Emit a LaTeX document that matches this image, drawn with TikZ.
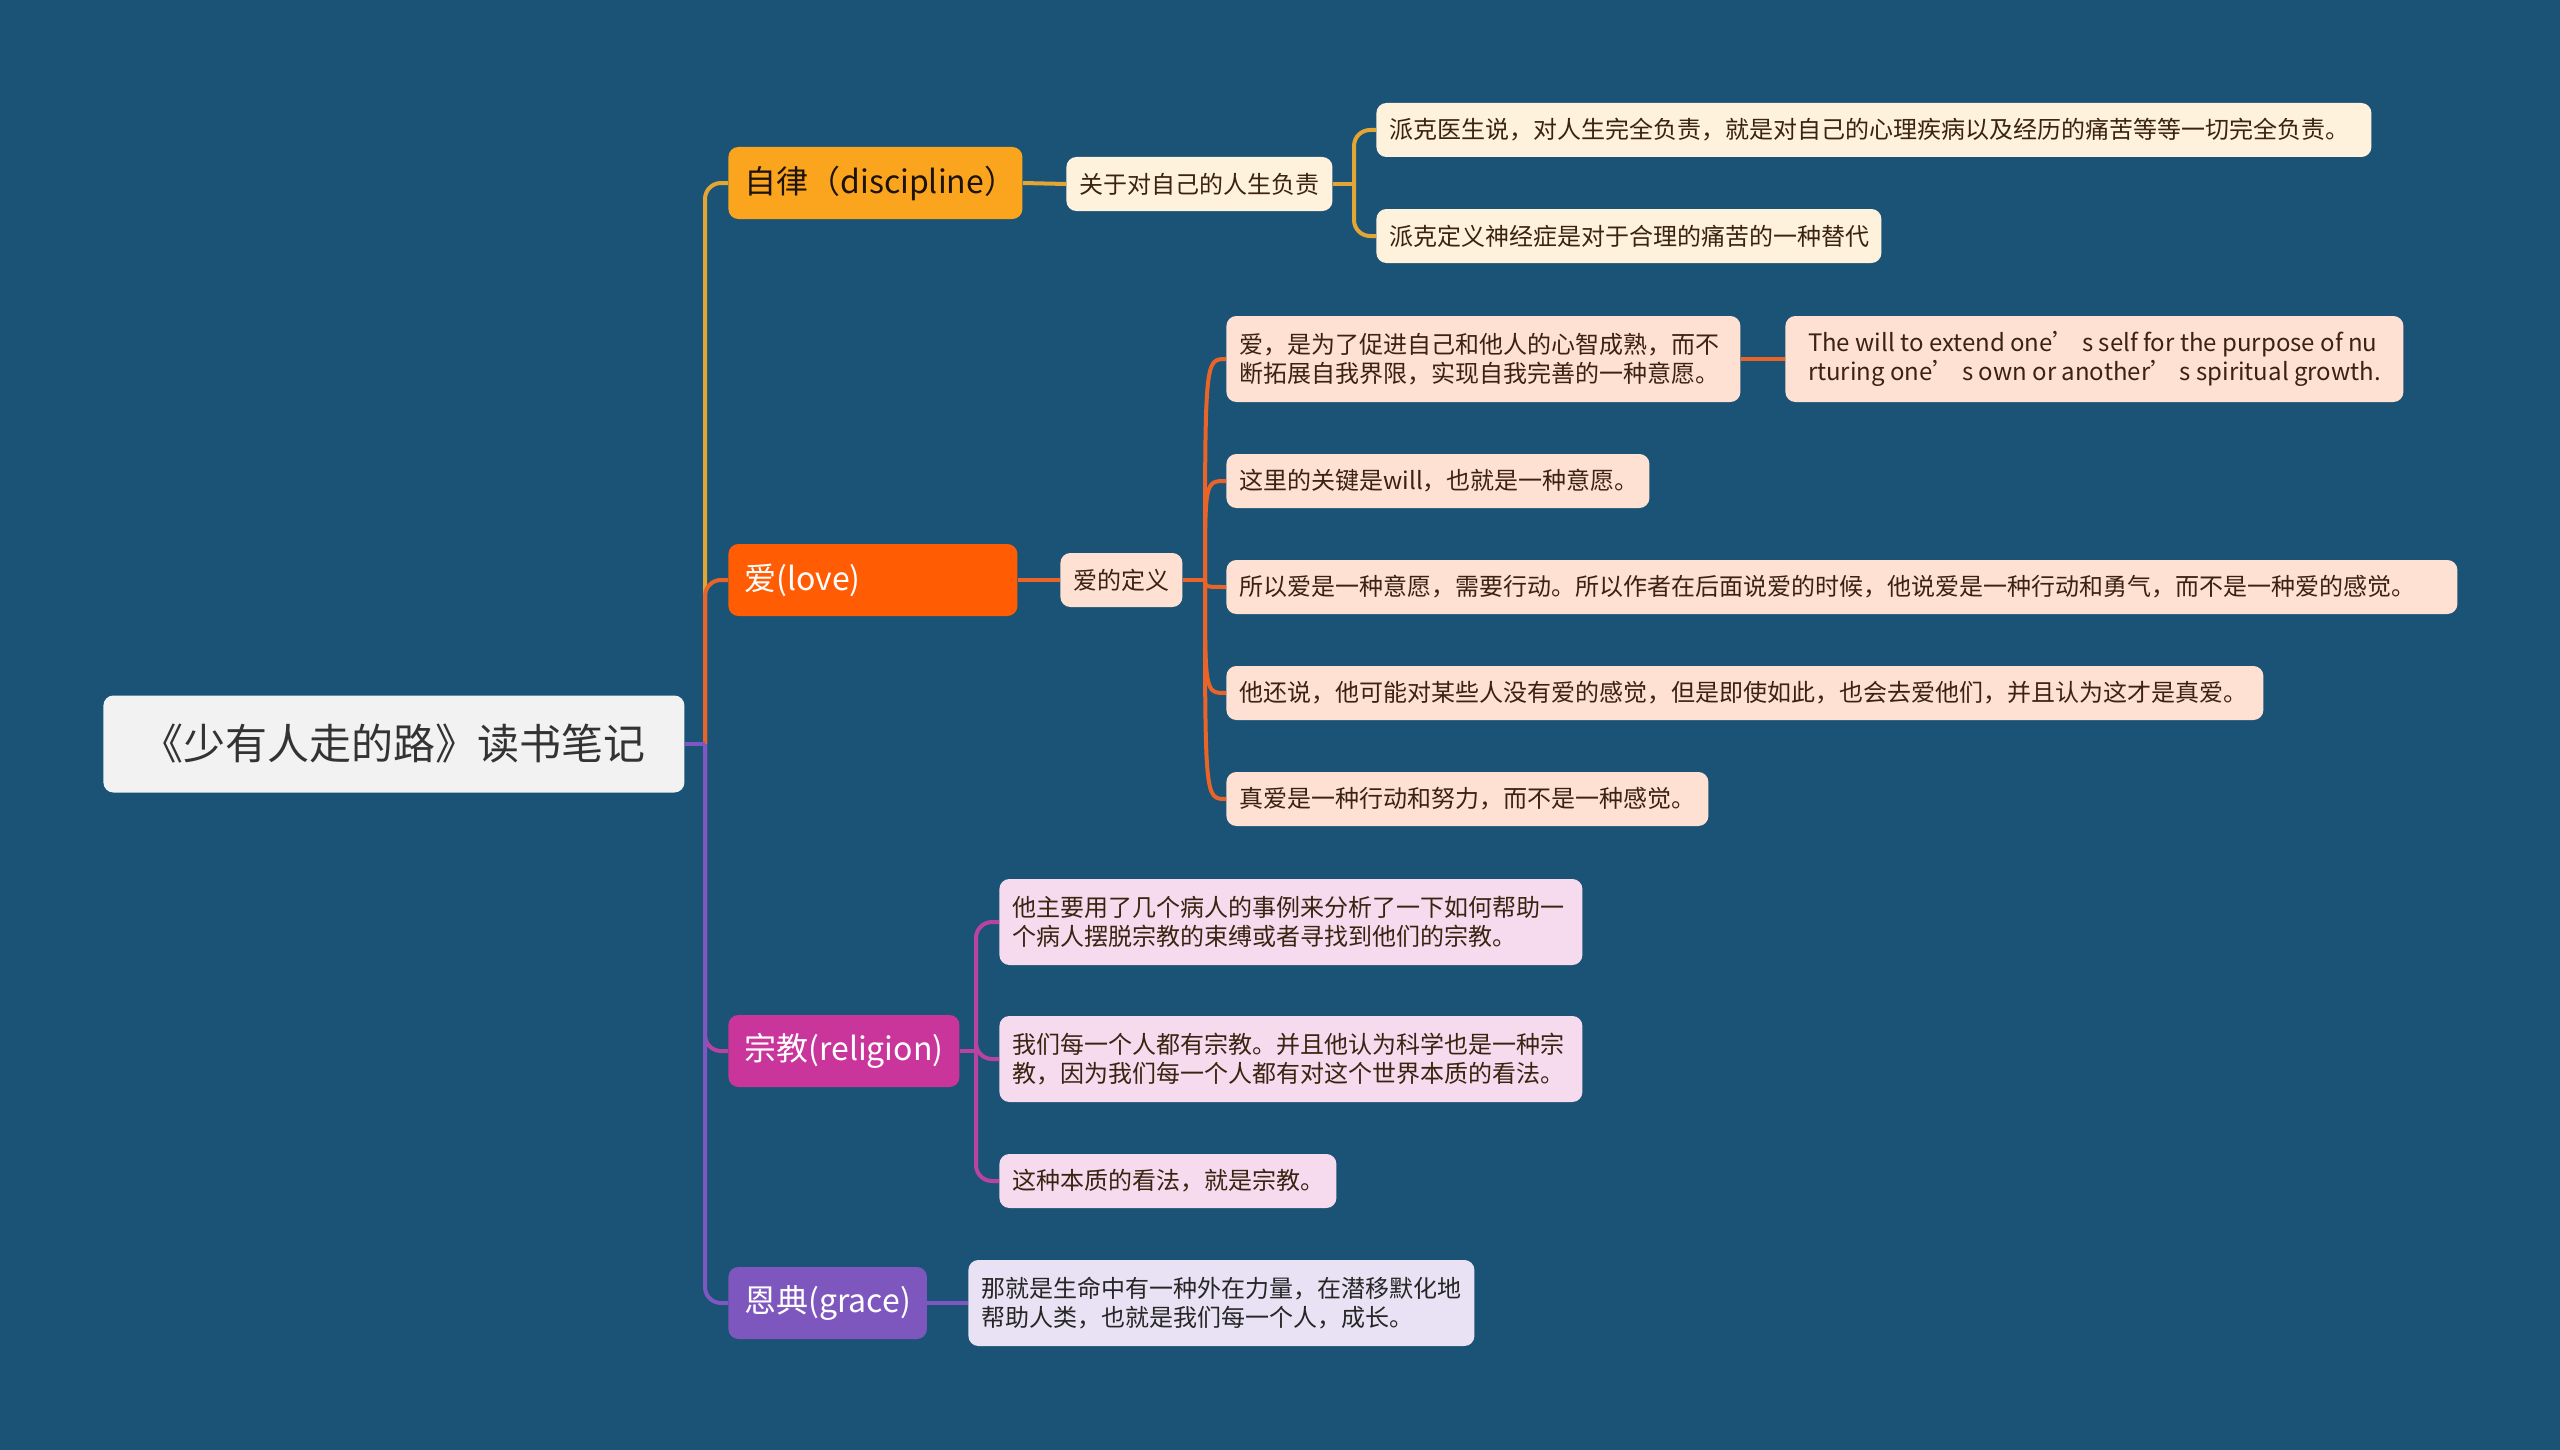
\documentclass[tikz,border=0pt]{standalone}
\usepackage{fontspec}
\setmainfont{Noto Sans CJK SC}
\usetikzlibrary{positioning}

\definecolor{bgblue}{HTML}{1B5376}
\definecolor{rootfill}{HTML}{F2F2F2}
\definecolor{disfill}{HTML}{FBA51E}
\definecolor{disline}{HTML}{E3A534}
\definecolor{lovefill}{HTML}{FF5C03}
\definecolor{loveline}{HTML}{EA6428}
\definecolor{relfill}{HTML}{C9359B}
\definecolor{relline}{HTML}{B943A3}
\definecolor{grafill}{HTML}{7E57BE}
\definecolor{graline}{HTML}{7E57C2}
\definecolor{creambg}{HTML}{FFF2DC}
\definecolor{peachbg}{HTML}{FFE1D3}
\definecolor{pinkbg}{HTML}{F6DAEE}
\definecolor{lavbg}{HTML}{E9E2F4}
\definecolor{darktxt}{HTML}{3A2310}

\begin{document}
\begin{tikzpicture}[x=0.5pt,y=-0.5pt,
  every node/.style={anchor=west,inner ysep=0pt,rounded corners=5pt,text=darktxt,font=\fontsize{12}{14.6}\selectfont},
  rootbox/.style={fill=rootfill,text=black!80,inner xsep=0pt,minimum height=48.5pt,font=\fontsize{21}{25}\selectfont},
  mainbox/.style={inner xsep=8pt,minimum height=36pt,font=\fontsize{16}{19}\selectfont},
  leaf/.style={inner xsep=6.5pt,minimum height=27pt,text width=#1,align=left},
  twoline/.style={leaf=#1,minimum height=43pt},
  link/.style={line width=2pt},
]
\useasboundingbox[fill=bgblue] (0,0) rectangle (2560,1450);

% root and main branches
\node[rootbox,minimum width=290.5pt] (root) at (103,744) {《少有人走的路》读书笔记};
\coordinate (trunk) at (705,744);

\node[mainbox,fill=disfill,text=black!85!brown,text width=131pt,align=left] (dis) at (728,183) {自律（discipline）};
\node[mainbox,fill=lovefill,text=white,text width=128.5pt,align=left] (love) at (728,580) {爱(love)};
\node[mainbox,fill=relfill,text=white,minimum width=113.5pt] (rel) at (728,1051) {宗教(religion)};
\node[mainbox,fill=grafill,text=white,minimum width=98pt] (gra) at (728,1303) {恩典(grace)};

\draw[link,disline,rounded corners=8pt] (trunk) |- (dis.west);
\draw[link,loveline,rounded corners=8pt] (trunk) |- (love.west);
\draw[link,relline,rounded corners=8pt] (trunk) |- (rel.west);
\draw[link,graline,rounded corners=8pt] (trunk) |- (gra.west);
\draw[link,graline] (root.east) -- (trunk);

% discipline
\node[leaf=120pt,fill=creambg] (about) at (1066,184) {关于对自己的人生负责};
\node[leaf=484.5pt,fill=creambg] (dl1) at (1376,130) {派克医生说，对人生完全负责，就是对自己的心理疾病以及经历的痛苦等等一切完全负责。};
\node[leaf=239.5pt,fill=creambg] (dl2) at (1376,236) {派克定义神经症是对于合理的痛苦的一种替代};
\coordinate (dbar) at (1354,184);
\draw[link,disline] (dis.east) -- (about.west);
\draw[link,disline] (about.east) -- (dbar);
\draw[link,disline,rounded corners=8pt] (dbar) |- (dl1.west);
\draw[link,disline,rounded corners=8pt] (dbar) |- (dl2.west);

% love
\node[leaf=48pt,fill=peachbg] (def) at (1060,580) {爱的定义};
\node[twoline=244pt,fill=peachbg] (lv1) at (1226,359) {爱，是为了促进自己和他人的心智成熟，而不\\断拓展自我界限，实现自我完善的一种意愿。};
\node[inner xsep=6.5pt,minimum height=43pt,minimum width=309pt,align=left,fill=peachbg] (lven) at (1785,359) {The will to extend one’ s self for the purpose of nu\\rturing one’ s own or another’ s spiritual growth.};
\node[leaf=198.5pt,fill=peachbg] (lv2) at (1226,481) {这里的关键是will，也就是一种意愿。};
\node[leaf=602.5pt,fill=peachbg] (lv3) at (1226,587) {所以爱是一种意愿，需要行动。所以作者在后面说爱的时候，他说爱是一种行动和勇气，而不是一种爱的感觉。};
\node[leaf=505.5pt,fill=peachbg] (lv4) at (1226,693) {他还说，他可能对某些人没有爱的感觉，但是即使如此，也会去爱他们，并且认为这才是真爱。};
\node[leaf=228pt,fill=peachbg] (lv5) at (1226,799) {真爱是一种行动和努力，而不是一种感觉。};
\coordinate (lbar) at (1205,580);
\draw[link,loveline] (love.east) -- (def.west);
\draw[link,loveline] (def.east) -- (lbar);
\foreach \c in {lv1,lv2,lv3,lv4,lv5}
  \draw[link,loveline] (lbar) .. controls (lbar |- \c.west) .. (\c.west);
\draw[link,loveline] (lv1.east) -- (lven.west);

% religion
\node[twoline=278.5pt,fill=pinkbg] (rl1) at (999,922) {他主要用了几个病人的事例来分析了一下如何帮助一\\个病人摆脱宗教的束缚或者寻找到他们的宗教。};
\node[twoline=278.5pt,fill=pinkbg] (rl2) at (999,1059) {我们每一个人都有宗教。并且他认为科学也是一种宗\\教，因为我们每一个人都有对这个世界本质的看法。};
\node[leaf=155.5pt,fill=pinkbg] (rl3) at (999,1181) {这种本质的看法，就是宗教。};
\coordinate (rbar) at (976,1051);
\draw[link,relline] (rel.east) -- (rbar);
\foreach \c in {rl1,rl2,rl3}
  \draw[link,relline,rounded corners=8pt] (rbar) |- (\c.west);

% grace
\node[twoline=240pt,fill=lavbg,text=black!85] (gl) at (968,1303) {那就是生命中有一种外在力量，在潜移默化地\\帮助人类，也就是我们每一个人，成长。};
\draw[link,graline] (gra.east) -- (gl.west);

\end{tikzpicture}
\end{document}
